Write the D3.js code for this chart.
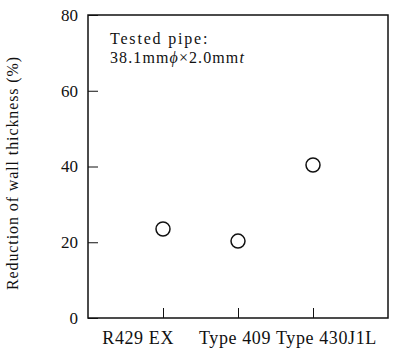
<!DOCTYPE html>
<html>
<head>
<meta charset="utf-8">
<script src="https://cdn.jsdelivr.net/npm/d3@7"></script>
<style>
  body { margin: 0; background: #fff; }
  text { fill: #111; }
</style>
</head>
<body>
<div id="chart"></div>
<script>
const categories = ["R429 EX", "Type 409", "Type 430J1L"];
const reduction = [23.5, 20.3, 40.4];
const yTicks = [0, 20, 40, 60, 80];

const width = 395, height = 348;
const margin = {top: 15, right: 7, bottom: 30, left: 88};
const serif = "'Liberation Serif', 'DejaVu Serif', serif";

// the labels sit off-centre from their ticks in the original
const labelAnchor = ["end", "middle", "start"];
const labelShift = [11, -3, -37];

const svg = d3.select("#chart").append("svg")
    .attr("width", width)
    .attr("height", height)
    .attr("font-family", serif);

const x = d3.scalePoint()
    .domain(categories)
    .range([margin.left, width - margin.right])
    .padding(1);

const y = d3.scaleLinear()
    .domain([0, 80])
    .range([height - margin.bottom, margin.top]);

// frame
svg.append("rect")
    .attr("x", margin.left)
    .attr("y", margin.top)
    .attr("width", width - margin.right - margin.left)
    .attr("height", height - margin.bottom - margin.top)
    .attr("fill", "none")
    .attr("stroke", "#111")
    .attr("stroke-width", 1.5);

// y axis, ticks inward
const yAxis = svg.append("g")
    .attr("transform", `translate(${margin.left},0)`)
    .call(d3.axisRight(y).tickValues(yTicks).tickSize(10).tickFormat(""));
yAxis.select(".domain").remove();
yAxis.selectAll("line").attr("stroke", "#111");

svg.append("g").selectAll("text")
    .data(yTicks)
    .join("text")
    .attr("x", margin.left - 10)
    .attr("y", d => y(d))
    .attr("dy", "0.35em")
    .attr("text-anchor", "end")
    .attr("font-size", 17)
    .text(d => d);

// x axis, ticks inward
const xAxis = svg.append("g")
    .attr("transform", `translate(0,${height - margin.bottom})`)
    .call(d3.axisTop(x).tickSize(10).tickFormat(""));
xAxis.select(".domain").remove();
xAxis.selectAll("line").attr("stroke", "#111");

svg.append("g").selectAll("text")
    .data(categories)
    .join("text")
    .attr("x", (d, i) => x(d) + labelShift[i])
    .attr("y", 344)
    .attr("text-anchor", (d, i) => labelAnchor[i])
    .attr("font-size", 18)
    .attr("letter-spacing", 0.6)
    .text(d => d);

// points
svg.append("g").selectAll("circle")
    .data(categories)
    .join("circle")
    .attr("cx", d => x(d))
    .attr("cy", (d, i) => y(reduction[i]))
    .attr("r", 7)
    .attr("fill", "none")
    .attr("stroke", "#111")
    .attr("stroke-width", 1.5);

// y title
svg.append("text")
    .attr("transform", "translate(18,173) rotate(-90)")
    .attr("text-anchor", "middle")
    .attr("font-size", 16)
    .attr("letter-spacing", 0.9)
    .text("Reduction of wall  thickness (%)");

// note
svg.append("text")
    .attr("x", 110)
    .attr("y", 44)
    .attr("font-size", 16)
    .attr("letter-spacing", 1.8)
    .text("Tested pipe:");

const note = svg.append("text")
    .attr("x", 110)
    .attr("y", 63)
    .attr("font-size", 16)
    .attr("letter-spacing", 1.1);
note.append("tspan").text("38.1mm");
note.append("tspan").attr("font-style", "italic").text("\u03d5");
note.append("tspan").text("\u00d72.0mm");
note.append("tspan").attr("font-style", "italic").text("t");
</script>
</body>
</html>
